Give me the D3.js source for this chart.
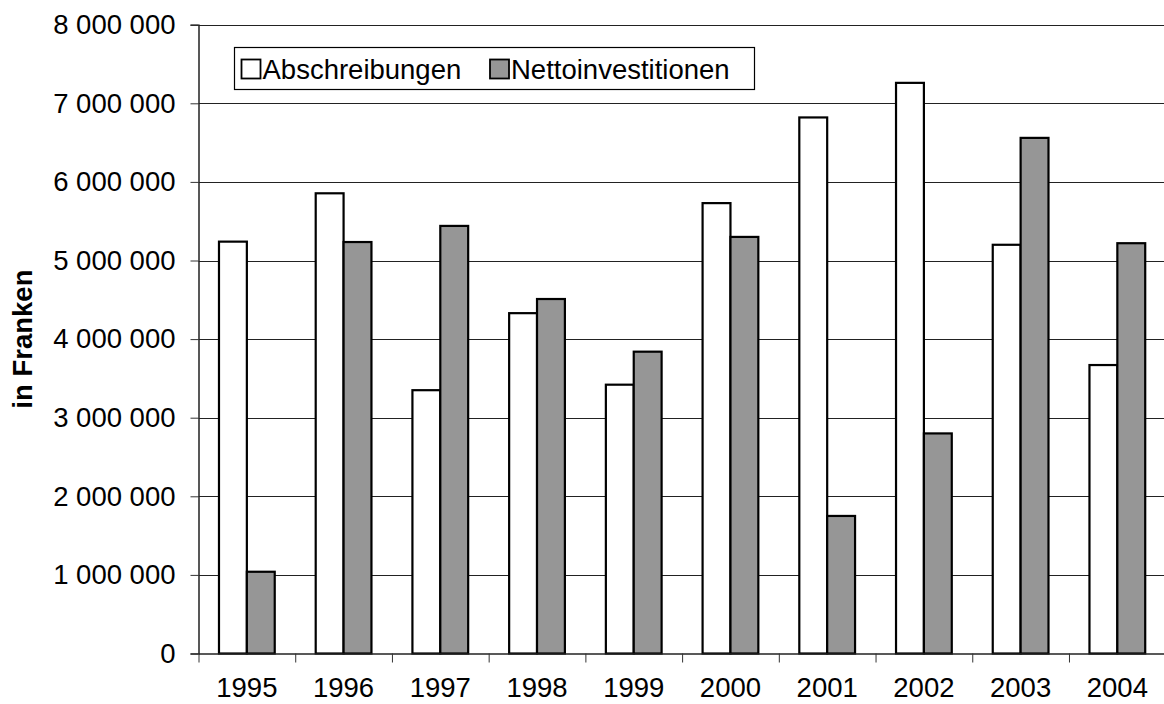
<!DOCTYPE html>
<html>
<head>
<meta charset="utf-8">
<script src="https://cdn.jsdelivr.net/npm/d3@7"></script>
<style>
  html, body { margin: 0; padding: 0; background: #fff; }
  svg { display: block; font-family: Arial, "Liberation Sans", sans-serif; }
</style>
</head>
<body>
<svg id="chart" width="1164" height="704"></svg>
<script>
// Jahre und Werte (in Franken)
const years = ["1995", "1996", "1997", "1998", "1999", "2000", "2001", "2002", "2003", "2004"];
const abschreibungen = [5240000, 5855000, 3350000, 4330000, 3420000, 5730000, 6820000, 7260000, 5200000, 3670000];
const nettoinvestitionen = [1040000, 5235000, 5440000, 4510000, 3840000, 5300000, 1750000, 2800000, 6560000, 5220000];
const seriesNames = ["Abschreibungen", "Nettoinvestitionen"];
const seriesColors = ["#ffffff", "#969696"];
const yTicks = [0, 1000000, 2000000, 3000000, 4000000, 5000000, 6000000, 7000000, 8000000];

const svg = d3.select("#chart");
const plot = { left: 198.5, right: 1165.7, top: 24.7, bottom: 653.5 };
const fontSize = 27.5;

const x = d3.scaleBand().domain(years).range([plot.left, plot.right]).paddingInner(0).paddingOuter(0);
const barW = x.bandwidth() / 3.47;
const xs = d3.scaleBand().domain(seriesNames).range([0, 2 * barW]);
const y = d3.scaleLinear().domain([0, 8000000]).range([plot.bottom, plot.top]);

const fmt = v => d3.format(",")(v).replace(/,/g, " ");

// Gitterlinien
svg.append("g")
  .selectAll("line")
  .data(yTicks.filter(d => d > 0))
  .join("line")
  .attr("x1", plot.left).attr("x2", plot.right)
  .attr("y1", d => Math.round(y(d)) + 0.5).attr("y2", d => Math.round(y(d)) + 0.5)
  .attr("stroke", "#222").attr("stroke-width", 1.2);

// Balken
const data = years.map((yr, i) => ({ year: yr, values: [abschreibungen[i], nettoinvestitionen[i]] }));
const groups = svg.append("g").selectAll("g")
  .data(data)
  .join("g")
  .attr("transform", d => `translate(${x(d.year) + (x.bandwidth() - 2 * barW) / 2},0)`);

groups.selectAll("rect")
  .data(d => d.values.map((v, k) => ({ name: seriesNames[k], value: v, color: seriesColors[k] })))
  .join("rect")
  .attr("x", d => xs(d.name))
  .attr("width", xs.bandwidth())
  .attr("y", d => y(d.value))
  .attr("height", d => y(0) - y(d.value))
  .attr("fill", d => d.color)
  .attr("stroke", "#000")
  .attr("stroke-width", 2.2);

// Y-Achse
const yAxis = svg.append("g")
  .attr("transform", `translate(${plot.left},0)`)
  .call(d3.axisLeft(y).tickValues(yTicks).tickFormat(fmt).tickSize(8).tickPadding(15));
yAxis.select(".domain").attr("stroke", "#222").attr("stroke-width", 1.5);
yAxis.selectAll(".tick line").attr("stroke", "#333");
yAxis.selectAll(".tick text").attr("font-size", fontSize).attr("fill", "#000")
  .attr("font-family", "Arial, 'Liberation Sans', sans-serif");

// X-Achse
const xAxis = svg.append("g")
  .attr("transform", `translate(0,${plot.bottom})`)
  .call(d3.axisBottom(x).tickSize(0).tickPadding(24));
xAxis.select(".domain").attr("stroke", "#222").attr("stroke-width", 1.5);
xAxis.selectAll(".tick text").attr("font-size", fontSize).attr("fill", "#000")
  .attr("font-family", "Arial, 'Liberation Sans', sans-serif");

// Trennstriche zwischen den Jahren
svg.append("g")
  .selectAll("line")
  .data(years)
  .join("line")
  .attr("x1", d => x(d) + 0.5).attr("x2", d => x(d) + 0.5)
  .attr("y1", plot.bottom).attr("y2", plot.bottom + 9)
  .attr("stroke", "#333").attr("stroke-width", 1);

// Achsentitel
svg.append("text")
  .attr("transform", `translate(32,${(plot.top + plot.bottom) / 2}) rotate(-90)`)
  .attr("text-anchor", "middle")
  .attr("font-size", fontSize)
  .attr("font-weight", "bold")
  .text("in Franken");

// Legende
const legend = svg.append("g");
legend.append("rect")
  .attr("x", 234.5).attr("y", 47.5).attr("width", 520).attr("height", 42)
  .attr("fill", "#fff").attr("stroke", "#000").attr("stroke-width", 1.2);
const legendX = [241.5, 490];
seriesNames.forEach((name, k) => {
  legend.append("rect")
    .attr("x", legendX[k]).attr("y", 59.5).attr("width", 19).attr("height", 19)
    .attr("fill", seriesColors[k]).attr("stroke", "#000").attr("stroke-width", 1.8);
  legend.append("text")
    .attr("x", legendX[k] + 21).attr("y", 78.5)
    .attr("font-size", fontSize)
    .text(name);
});
</script>
</body>
</html>
